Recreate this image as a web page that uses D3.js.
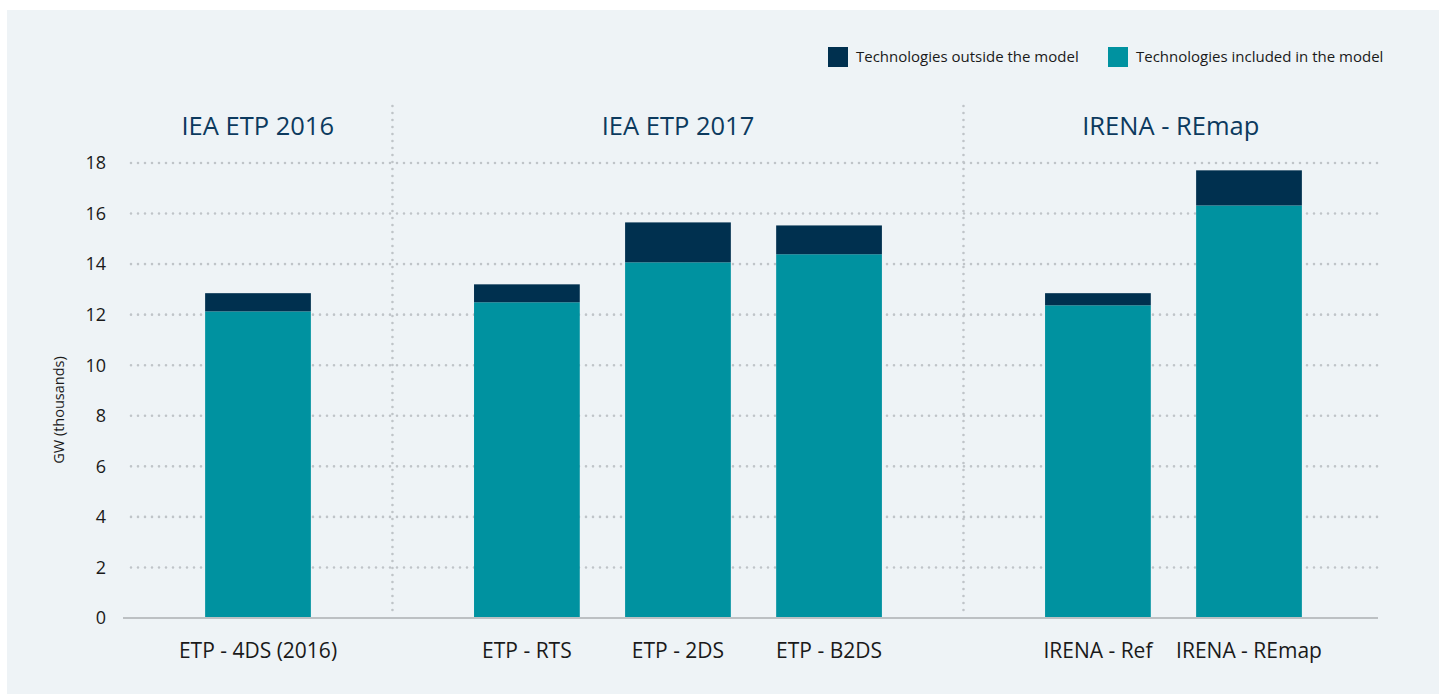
<!DOCTYPE html>
<html lang="en">
<head>
    <meta charset="UTF-8">
    <title>Installed capacity by scenario</title>
    <script src="https://d3js.org/d3.v7.min.js"></script>
    <style>
        body { margin: 0; background: #fff; }
        svg { display: block; font-family: "Open Sans", Lato, sans-serif; }
    </style>
</head>
<body>
<script>
    // data (GW, thousands)
    let groups = ["IEA ETP 2016", "IEA ETP 2017", "IRENA - REmap"];
    let categories = ["ETP - 4DS (2016)", "ETP - RTS", "ETP - 2DS", "ETP - B2DS", "IRENA - Ref", "IRENA - REmap"];
    let groupOf = [0, 1, 1, 1, 2, 2];
    let included = [12.13, 12.49, 14.07, 14.39, 12.37, 16.32];
    let outside = [0.72, 0.71, 1.58, 1.14, 0.48, 1.39];
    let yTicks = [0, 2, 4, 6, 8, 10, 12, 14, 16, 18];
    let seriesNames = ["Technologies outside the model", "Technologies included in the model"];

    const W = 1439, H = 694;
    const navy = "#00304f", teal = "#0092a0";
    const gridCol = "#bfc4c8";

    let svg = d3.select("body").append("svg")
                .attr("width", W)
                .attr("height", H);

    // panel background
    svg.append("rect")
       .attr("x", 7).attr("y", 10)
       .attr("width", W - 7).attr("height", H - 10)
       .attr("fill", "#eef3f6");

    const plotL = 123, plotR = 1378, plotT = 163, plotB = 618;

    let y = d3.scaleLinear().domain([0, 18]).range([plotB, plotT]);

    // slot position: bar index plus an extra gap between groups
    const gapExtra = 0.78;
    let slot = categories.map((c, i) => i + groupOf[i] * gapExtra);
    let x = d3.scaleLinear()
              .domain([0, slot[slot.length - 1]])
              .range([258, 1249]);
    const step = x(1) - x(0);
    const barW = step * 0.70;

    // dotted gridlines
    svg.append("g")
       .selectAll("line")
       .data(yTicks.filter(d => d > 0))
       .enter()
       .append("line")
       .attr("x1", 131).attr("x2", plotR)
       .attr("y1", d => y(d)).attr("y2", d => y(d))
       .attr("stroke", gridCol)
       .attr("stroke-width", 2.6)
       .attr("stroke-linecap", "round")
       .attr("stroke-dasharray", "0,7");

    // group dividers, halfway between the neighbouring bars
    let dividers = [];
    for (let i = 1; i < categories.length; i++) {
        if (groupOf[i] !== groupOf[i - 1]) dividers.push((x(slot[i]) + x(slot[i - 1])) / 2);
    }
    svg.append("g")
       .selectAll("line")
       .data(dividers)
       .enter()
       .append("line")
       .attr("x1", d => d).attr("x2", d => d)
       .attr("y1", 106).attr("y2", plotB - 4)
       .attr("stroke", gridCol)
       .attr("stroke-width", 2.6)
       .attr("stroke-linecap", "round")
       .attr("stroke-dasharray", "0,7");

    // group titles, centred in each group region
    let edges = [plotL].concat(dividers, [plotR]);
    svg.append("g")
       .selectAll("text")
       .data(groups)
       .enter()
       .append("text")
       .attr("x", (d, i) => (edges[i] + edges[i + 1]) / 2)
       .attr("y", 135)
       .attr("text-anchor", "middle")
       .attr("font-size", 25.5)
       .attr("fill", "#0c3a5e")
       .text(d => d);

    // bars
    let bars = svg.append("g")
                  .selectAll("g")
                  .data(categories)
                  .enter()
                  .append("g");

    bars.append("rect")
        .attr("x", (d, i) => x(slot[i]) - barW / 2)
        .attr("y", (d, i) => y(included[i]))
        .attr("width", barW)
        .attr("height", (d, i) => y(0) - y(included[i]))
        .attr("fill", teal);

    bars.append("rect")
        .attr("x", (d, i) => x(slot[i]) - barW / 2)
        .attr("y", (d, i) => y(included[i] + outside[i]))
        .attr("width", barW)
        .attr("height", (d, i) => y(included[i]) - y(included[i] + outside[i]))
        .attr("fill", navy);

    // baseline
    svg.append("line")
       .attr("x1", plotL).attr("x2", plotR)
       .attr("y1", plotB).attr("y2", plotB)
       .attr("stroke", "#bcc0c3")
       .attr("stroke-width", 2);

    // category labels
    bars.append("text")
        .attr("x", (d, i) => x(slot[i]))
        .attr("y", 658)
        .attr("text-anchor", "middle")
        .attr("font-size", 21)
        .attr("fill", "#1a1a1a")
        .text(d => d);

    // y tick labels
    svg.append("g")
       .selectAll("text")
       .data(yTicks)
       .enter()
       .append("text")
       .attr("x", 106)
       .attr("y", d => y(d))
       .attr("dy", "0.35em")
       .attr("text-anchor", "end")
       .attr("font-size", 18)
       .attr("fill", "#1a1a1a")
       .text(d => d);

    svg.append("text")
       .attr("transform", "translate(64,410) rotate(-90)")
       .attr("text-anchor", "middle")
       .attr("font-size", 14.5)
       .attr("fill", "#1a1a1a")
       .text("GW (thousands)");

    // legend
    let legendX = [828, 1108];
    let legendCol = [navy, teal];
    let lg = svg.append("g")
                .selectAll("g")
                .data(seriesNames)
                .enter()
                .append("g");
    lg.append("rect")
      .attr("x", (d, i) => legendX[i])
      .attr("y", 47)
      .attr("width", 20).attr("height", 20)
      .attr("fill", (d, i) => legendCol[i]);
    lg.append("text")
      .attr("x", (d, i) => legendX[i] + 28)
      .attr("y", 57)
      .attr("dy", "0.35em")
      .attr("font-size", 15)
      .attr("fill", "#1a1a1a")
      .text(d => d);
</script>
</body>
</html>
